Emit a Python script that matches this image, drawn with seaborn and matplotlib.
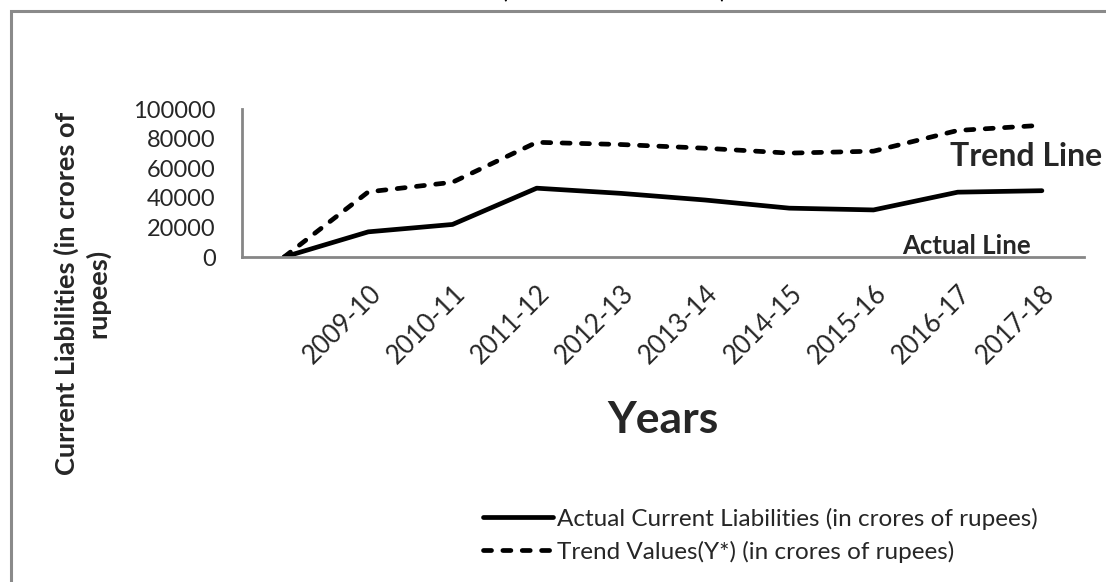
import numpy as np
import pandas as pd
import matplotlib
matplotlib.use("Agg")
import matplotlib.pyplot as plt
from matplotlib.patches import Rectangle
import seaborn as sns

# ---- data -------------------------------------------------------------
years = ["", "2009-10", "2010-11", "2011-12", "2012-13", "2013-14",
         "2014-15", "2015-16", "2016-17", "2017-18"]
actual = [0, 17000, 22000, 46500, 43000, 38500, 33000, 31800, 43800, 44800]
trend = [0, 44000, 50500, 77500, 76000, 73500, 70200, 71500, 85500, 89000]
y_ticks = [0, 20000, 40000, 60000, 80000, 100000]

series_actual = "Actual Current Liabilities (in crores of rupees)"
series_trend = "Trend Values(Y*) (in crores of rupees)"

sns.set_theme(style="white")
plt.rcParams["font.family"] = ["Lato", "DejaVu Sans"]

W, H = 1106, 582
fig = plt.figure(figsize=(W / 100, H / 100), dpi=100)
fig.patch.set_facecolor("white")

# outer chart frame (only top and left edge visible)
fig.patches.append(Rectangle((11 / W, -0.2), 1.2, (H - 11) / H + 0.2,
                             transform=fig.transFigure, fill=False,
                             edgecolor="#8a8a8a", linewidth=2.2, zorder=0))

# cut-off title (only the bottom of its parentheses is visible)
fig.text(504 / W, 1 + 9 / H, "(", ha="center", va="center", fontsize=18,
         color="black")
fig.text(723 / W, 1 + 9 / H, ")", ha="center", va="center", fontsize=18,
         color="black")

ax = fig.add_axes([242 / W, 1 - 257 / H, (1084 - 242) / W, (257 - 109) / H])

df = pd.DataFrame({"pos": np.arange(len(years)), "actual": actual, "trend": trend})

sns.lineplot(data=df, x="pos", y="actual", ax=ax, color="black", linewidth=3.4,
             solid_capstyle="round", solid_joinstyle="round",
             label=series_actual, legend=False)
sns.lineplot(data=df, x="pos", y="trend", ax=ax, color="black", linewidth=3.4,
             linestyle=(0, (1.7, 2.4)), dash_capstyle="round",
             label=series_trend, legend=False)

ax.set_xlim(-0.5, len(years) - 0.5)
ax.set_ylim(0, 100000)
ax.set_yticks(y_ticks)
ax.set_yticklabels([str(v) for v in y_ticks], fontsize=17)
ax.set_xticks(np.arange(len(years)))
ax.set_xticklabels(years, fontsize=18.5, rotation=45, ha="right",
                   rotation_mode="anchor")
ax.tick_params(axis="both", length=0)
ax.tick_params(axis="y", pad=19)
ax.tick_params(axis="x", pad=17)
ax.set_xlabel("")
ax.set_ylabel("")
for s in ["top", "right"]:
    ax.spines[s].set_visible(False)
for s in ["left", "bottom"]:
    ax.spines[s].set_color("#868686")
    ax.spines[s].set_linewidth(2.0)
ax.grid(False)
ax.set_facecolor("none")

# annotations on plot
fig.text(950 / W, 1 - 157 / H, "Trend Line", fontsize=23, fontweight="bold",
         ha="left", va="center")
fig.text(902 / W, 1 - 254 / H, "Actual Line", fontsize=18.5, fontweight="bold",
         ha="left", va="baseline")

# axis titles
fig.text(82 / W, 1 - 293 / H, "Current Liabilities (in crores of\nrupees)",
         rotation=90, ha="center", va="center", multialignment="center",
         fontsize=19.5, fontweight="bold", linespacing=1.25)
fig.text(663 / W, 1 - 420 / H, "Years", fontsize=32, fontweight="bold",
         ha="center", va="center")

# legend
handles, labels = ax.get_legend_handles_labels()
leg = fig.legend(handles, labels, loc="center left",
                 bbox_to_anchor=(473 / W, 1 - 535 / H),
                 frameon=False, fontsize=17.5, handlelength=2.9,
                 handletextpad=0.15, labelspacing=0.45, borderaxespad=0)

fig.savefig("out.png", dpi=100, facecolor="white")
